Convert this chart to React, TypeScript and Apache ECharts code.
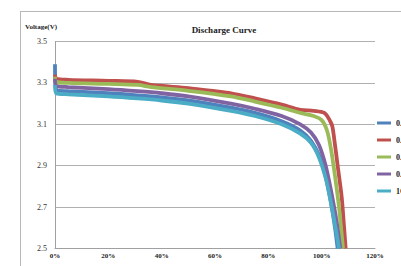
import React, { useEffect, useRef } from "react";
import * as echarts from "echarts";

const seriesNames = ["0.1C", "0.2C", "0.3C", "0.5C", "1C"];
const colors = ["#4F81BD", "#C0504D", "#9BBB59", "#8064A2", "#4BACC6"];
const xTicks = [0, 20, 40, 60, 80, 100, 120];
const yTicks = [2.5, 2.7, 2.9, 3.1, 3.3, 3.5];

// [capacity %, voltage V]
const blue01C: [number, number][] = [
  [0, 3.39], [0.5, 3.265], [5, 3.26], [20, 3.25], [31, 3.24], [40, 3.23], [50, 3.215],
  [66, 3.18], [75, 3.155], [85, 3.115], [92, 3.07], [96, 3.02], [99, 2.95],
  [101.5, 2.85], [103.5, 2.72], [105, 2.6], [106, 2.5],
];
const red02C: [number, number][] = [
  [0, 3.34], [0.5, 3.32], [5, 3.315], [20, 3.31], [31, 3.305], [36, 3.29], [50, 3.275],
  [60, 3.26], [66, 3.25], [75, 3.225], [85, 3.195], [92, 3.17], [97, 3.165], [101, 3.155],
  [103, 3.12], [104, 3.09], [105, 3.0], [106, 2.9], [107.5, 2.75], [108.3, 2.62], [109, 2.5],
];
const green03C: [number, number][] = [
  [0, 3.33], [0.5, 3.305], [5, 3.3], [20, 3.295], [31, 3.29], [36, 3.28], [50, 3.262],
  [66, 3.235], [75, 3.21], [85, 3.18], [92, 3.155], [97, 3.14], [100, 3.12], [102, 3.07],
  [103.5, 2.98], [105, 2.85], [106.5, 2.7], [108, 2.5],
];
const purple05C: [number, number][] = [
  [0, 3.32], [0.5, 3.285], [5, 3.28], [20, 3.27], [31, 3.26], [40, 3.25], [50, 3.235],
  [66, 3.2], [75, 3.175], [85, 3.14], [92, 3.1], [96, 3.06], [99, 3.0], [101.5, 2.9],
  [103.5, 2.78], [105.5, 2.64], [107, 2.5],
];
const teal1C: [number, number][] = [
  [0, 3.29], [0.5, 3.25], [5, 3.245], [20, 3.235], [31, 3.225], [40, 3.215], [50, 3.2],
  [66, 3.165], [75, 3.14], [85, 3.1], [92, 3.055], [96, 3.01], [99, 2.94], [101.5, 2.84],
  [103.5, 2.72], [105.2, 2.6], [106.5, 2.5],
];
const seriesData = [blue01C, red02C, green03C, purple05C, teal1C];

const FONT = "'Liberation Serif', 'DejaVu Serif', serif";

export default function App() {
  const ref = useRef<HTMLDivElement>(null);
  useEffect(() => {
    if (!ref.current) return;
    const chart = echarts.init(ref.current, null, { renderer: "svg" });
    chart.setOption({
      animation: false,
      backgroundColor: "#ffffff",
      title: {
        text: "Discharge Curve",
        left: 219,
        top: 20,
        textAlign: "center",
        textStyle: { fontFamily: FONT, fontSize: 9, fontWeight: "bold", color: "#222" },
      },
      graphic: [
        { type: "line", shape: { x1: 20.5, y1: 11, x2: 20.5, y2: 266 }, style: { stroke: "#b8b8b8", lineWidth: 1 } },
        { type: "line", shape: { x1: 20, y1: 11.5, x2: 401, y2: 11.5 }, style: { stroke: "#b8b8b8", lineWidth: 1 } },
        {
          type: "text",
          left: 25,
          top: 23,
          style: { text: "Voltage(V)", fontFamily: FONT, fontSize: 7, fontWeight: "bold", fill: "#222" },
        },
      ],
      legend: {
        orient: "vertical",
        left: 377,
        top: 118,
        padding: 0,
        itemWidth: 14,
        itemHeight: 3,
        itemGap: 7,
        icon: "rect",
        textStyle: { fontFamily: FONT, fontSize: 8, fontWeight: "bold", color: "#222", lineHeight: 10 },
        data: seriesNames,
      },
      grid: { left: 55, right: 26, top: 41.5, bottom: 17.5, containLabel: false },
      xAxis: {
        type: "value",
        min: xTicks[0],
        max: xTicks[xTicks.length - 1],
        interval: 20,
        axisLine: { show: true, lineStyle: { color: "#a0a0a0", width: 1 } },
        axisTick: { show: false },
        splitLine: { show: false },
        axisLabel: {
          margin: 4,
          fontFamily: FONT,
          fontSize: 7,
          fontWeight: "bold",
          color: "#222",
          formatter: (v: number) => `${v}%`,
        },
      },
      yAxis: {
        type: "value",
        min: yTicks[0],
        max: yTicks[yTicks.length - 1],
        interval: 0.2,
        axisLine: { show: true, lineStyle: { color: "#a0a0a0", width: 1 } },
        axisTick: { show: false },
        splitLine: { show: true, lineStyle: { color: "#b0b0b0", width: 1 } },
        axisLabel: {
          margin: 8,
          fontFamily: FONT,
          fontSize: 8,
          color: "#333",
          formatter: (v: number) => v.toFixed(1),
        },
      },
      series: seriesNames.map((name, i) => ({
        name,
        type: "line",
        data: seriesData[i],
        smooth: 0.3,
        showSymbol: false,
        symbol: "none",
        clip: true,
        lineStyle: { color: colors[i], width: 3.8 },
        itemStyle: { color: colors[i] },
      })),
    });
    return () => chart.dispose();
  }, []);
  return <div ref={ref} style={{ width: 401, height: 266, position: "absolute", left: 0, top: 0 }} />;
}
